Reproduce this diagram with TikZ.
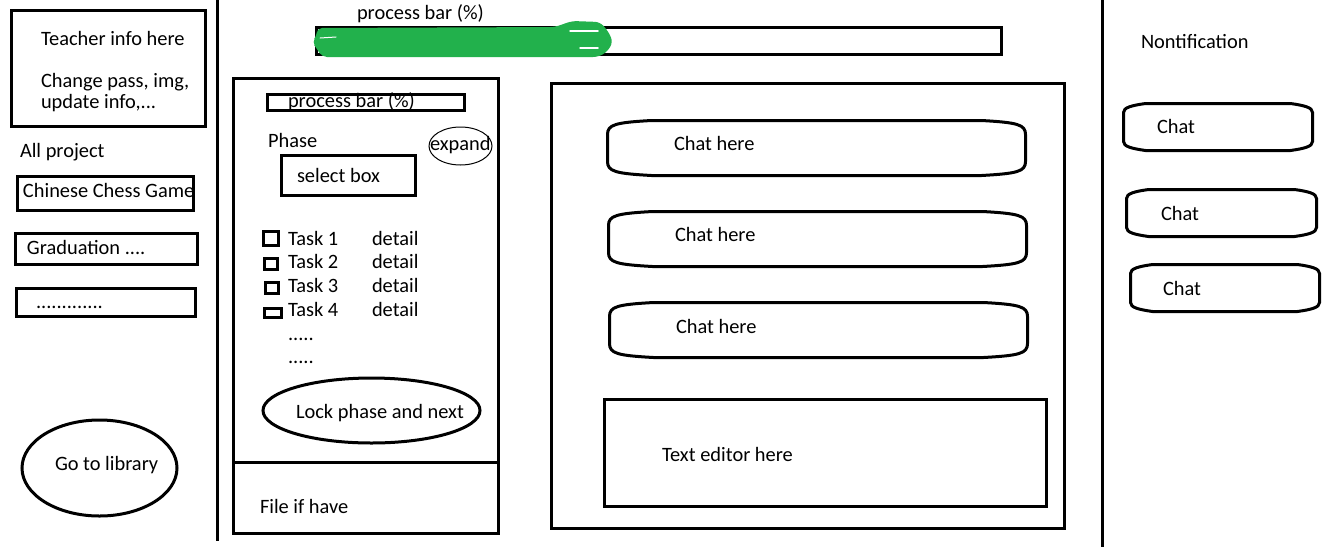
\documentclass[tikz,border=0pt]{standalone}
\usepackage{fontspec}
\setmainfont{Carlito}
\definecolor{paintgreen}{HTML}{22B14C}
\newcommand{\chatshape}[6]{%
  \draw[boxline] ({#1+#5},{#2}) -- ({#3-#5},{#2})
    .. controls ({#3-8},{#2+2}) and ({#3},{#2+4}) .. ({#3},{#2+#6})
    -- ({#3},{#4-#6})
    .. controls ({#3},{#4-4}) and ({#3-8},{#4-2}) .. ({#3-#5},{#4})
    -- ({#1+#5},{#4})
    .. controls ({#1+8},{#4-2}) and ({#1},{#4-4}) .. ({#1},{#4-#6})
    -- ({#1},{#2+#6})
    .. controls ({#1},{#2+4}) and ({#1+8},{#2+2}) .. cycle;}
\tikzset{
  boxline/.style={draw=black, line width=3pt},
  thinline/.style={draw=black, line width=1pt},
  lbl/.style={anchor=base west, inner sep=0pt, outer sep=0pt, font=\fontsize{20.4}{22}\selectfont, text=black},
}
\begin{document}
\begin{tikzpicture}[x=1pt, y=-1pt]
\useasboundingbox (0,0) rectangle (1335,547);
\fill[white] (0,0) rectangle (1335,547);

% ---------- left column ----------
\draw[boxline] (11.5,10.5) rectangle (205.5,126.5);
\node[lbl] (teacher) at (41,45) {Teacher info here};
\node[lbl] (change) at (41,87) {Change pass, img,};
\node[lbl] (update) at (41,108) {update info,...};
\node[lbl] (allproj) at (20,157) {All project};
\node[lbl] (chess) at (23,197) {Chinese Chess Game};
\draw[boxline] (17.5,176.5) rectangle (193.5,210.5);
\node[lbl] (grad) at (27,254) {Graduation ....};
\draw[boxline] (15.5,233.5) rectangle (197.5,264.5);
\node[lbl] (dots) at (36,308) {.............};
\draw[boxline] (16.5,288.5) rectangle (195.5,316.5);
\draw[boxline] (99.5,468) ellipse [x radius=77.5, y radius=48];
\node[lbl] (library) at (55,470) {Go to library};
\draw[boxline] (217,0) -- (217,541);

% ---------- top progress bar ----------
\node[lbl] (topbar) at (357,19) {process bar (\%)};
\draw[boxline] (316.5,27.5) rectangle (1001.5,54.5);
\fill[paintgreen, rounded corners=5pt] (317,28) -- (555,27) -- (572,21) -- (600,22) -- (608,31)
  -- (613,42) -- (607,52) -- (598,57) -- (322,57) -- (317,49) -- (312,42) -- (317,35) -- cycle;
\draw[white, line width=1.5pt, line cap=round] (570,31) -- (598,31);
\draw[white, line width=1.5pt, line cap=round] (580,48) -- (598,48);
\draw[white, line width=1pt, line cap=round] (320,38) -- (336,37);

% ---------- phase panel ----------
\draw[boxline] (233.5,78.5) rectangle (498.5,533.5);
\draw[boxline] (233.5,462.5) -- (498.5,462.5);
\draw[boxline] (267.5,94.5) rectangle (464.5,110.5);
\node[lbl] (innerbar) at (288,107) {process bar (\%)};
\node[lbl] (phase) at (268,147) {Phase};
\draw[thinline] (460.5,146) ellipse [x radius=31.5, y radius=19];
\node[lbl] (expand) at (430,150) {expand};
\draw[boxline] (281.5,155.5) rectangle (415.5,195.5);
\node[lbl] (select) at (297,182) {select box};
\draw[boxline] (263.5,231.5) rectangle (278.5,245.5);
\draw[boxline] (264.5,258.5) rectangle (277.5,269.5);
\draw[boxline] (265.5,282.5) rectangle (278.5,293.5);
\draw[boxline] (264.5,308.5) rectangle (281.5,317.5);
\node[lbl] (t1) at (288,245) {Task 1};
\node[lbl] (d1) at (372,245) {detail};
\node[lbl] (t2) at (288,268) {Task 2};
\node[lbl] (d2) at (372,268) {detail};
\node[lbl] (t3) at (288,292) {Task 3};
\node[lbl] (d3) at (372,292) {detail};
\node[lbl] (t4) at (288,316) {Task 4};
\node[lbl] (d4) at (372,316) {detail};
\node[lbl] (more1) at (288,340) {.....};
\node[lbl] (more2) at (288,363) {.....};
\draw[boxline] (371.5,410.5) ellipse [x radius=108.5, y radius=32.5];
\node[lbl] (lock) at (296,418) {Lock phase and next};
\node[lbl] (file) at (260,513) {File if have};

% ---------- chat panel ----------
\draw[boxline] (551.5,83.5) rectangle (1064.5,528.5);
\chatshape{607.5}{120.5}{1025.5}{175.5}{44}{14}
\node[lbl] (chat1) at (674,150) {Chat here};
\chatshape{608.5}{211.5}{1026.5}{266.5}{44}{14}
\node[lbl] (chat2) at (675,241) {Chat here};
\chatshape{609.5}{302.5}{1027.5}{357.5}{44}{14}
\node[lbl] (chat3) at (676,333) {Chat here};
\draw[boxline] (604.5,399.5) rectangle (1046.5,506.5);
\node[lbl] (editor) at (662,461) {Text editor here};

% ---------- right column ----------
\draw[boxline] (1102,0) -- (1102,547);
\node[lbl] (notif) at (1141,48) {Nontification};
\chatshape{1123.5}{103.5}{1312.5}{150.5}{22}{9}
\node[lbl] (rc1) at (1157,133) {Chat};
\chatshape{1126.5}{189.5}{1316.5}{236.5}{22}{9}
\node[lbl] (rc2) at (1161,220) {Chat};
\chatshape{1130.5}{264.5}{1319.5}{311.5}{22}{9}
\node[lbl] (rc3) at (1163,295) {Chat};
\end{tikzpicture}
\end{document}
